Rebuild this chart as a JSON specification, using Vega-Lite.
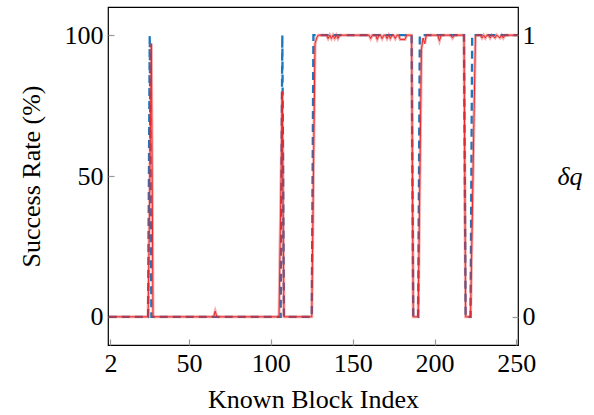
{
  "$schema": "https://vega.github.io/schema/vega-lite/v6.json",
  "width": 410,
  "height": 338,
  "autosize": {"type": "none"},
  "padding": {"left": 108, "top": 7, "right": 76, "bottom": 70},
  "background": "white",
  "config": {
    "font": "Liberation Serif",
    "view": {"stroke": "black", "strokeWidth": 1.2},
    "axis": {
      "grid": false,
      "domain": false,
      "labelFont": "Liberation Serif",
      "titleFont": "Liberation Serif",
      "labelFontSize": 26,
      "titleFontSize": 26,
      "titleFontWeight": "normal",
      "labelColor": "black",
      "titleColor": "black",
      "tickColor": "#999999",
      "tickWidth": 1.2
    }
  },
  "data": {
    "values": [
      {"x": 1, "rate": 0, "delta": 0},
      {"x": 25, "rate": 0, "delta": 0},
      {"x": 26, "rate": 45, "delta": 1},
      {"x": 27, "rate": 97, "delta": 0},
      {"x": 28, "rate": 0, "delta": 0},
      {"x": 65, "rate": 0, "delta": 0},
      {"x": 66, "rate": 2, "delta": 0},
      {"x": 67, "rate": 0, "delta": 0},
      {"x": 105, "rate": 0, "delta": 0},
      {"x": 106, "rate": 40, "delta": 0},
      {"x": 107, "rate": 80, "delta": 1},
      {"x": 108, "rate": 0, "delta": 0},
      {"x": 125, "rate": 0, "delta": 0},
      {"x": 126, "rate": 50, "delta": 1},
      {"x": 127, "rate": 97, "delta": 1},
      {"x": 128, "rate": 99, "delta": 1},
      {"x": 129, "rate": 100, "delta": 1},
      {"x": 134, "rate": 100, "delta": 1},
      {"x": 135, "rate": 98.8, "delta": 1},
      {"x": 136, "rate": 100, "delta": 1},
      {"x": 137, "rate": 98.8, "delta": 1},
      {"x": 138, "rate": 100, "delta": 1},
      {"x": 139, "rate": 98.8, "delta": 1},
      {"x": 140, "rate": 100, "delta": 1},
      {"x": 141, "rate": 98.8, "delta": 1},
      {"x": 142, "rate": 100, "delta": 1},
      {"x": 160, "rate": 100, "delta": 1},
      {"x": 161, "rate": 98.8, "delta": 1},
      {"x": 162, "rate": 100, "delta": 1},
      {"x": 164, "rate": 100, "delta": 1},
      {"x": 165, "rate": 98.5, "delta": 1},
      {"x": 166, "rate": 100, "delta": 1},
      {"x": 167, "rate": 100, "delta": 1},
      {"x": 168, "rate": 98.8, "delta": 1},
      {"x": 169, "rate": 100, "delta": 1},
      {"x": 170, "rate": 100, "delta": 1},
      {"x": 171, "rate": 98.8, "delta": 1},
      {"x": 172, "rate": 100, "delta": 1},
      {"x": 173, "rate": 98.8, "delta": 1},
      {"x": 174, "rate": 100, "delta": 1},
      {"x": 175, "rate": 100, "delta": 1},
      {"x": 176, "rate": 98.8, "delta": 1},
      {"x": 177, "rate": 100, "delta": 1},
      {"x": 178, "rate": 100, "delta": 1},
      {"x": 179, "rate": 98.5, "delta": 1},
      {"x": 182, "rate": 98.5, "delta": 1},
      {"x": 183, "rate": 100, "delta": 1},
      {"x": 186, "rate": 100, "delta": 1},
      {"x": 187, "rate": 0, "delta": 0},
      {"x": 190, "rate": 0, "delta": 0},
      {"x": 191, "rate": 47, "delta": 1},
      {"x": 192, "rate": 95, "delta": 1},
      {"x": 193, "rate": 99, "delta": 1},
      {"x": 194, "rate": 97, "delta": 1},
      {"x": 195, "rate": 100, "delta": 1},
      {"x": 202, "rate": 100, "delta": 1},
      {"x": 203, "rate": 98, "delta": 1},
      {"x": 204, "rate": 100, "delta": 1},
      {"x": 210, "rate": 100, "delta": 1},
      {"x": 211, "rate": 99, "delta": 1},
      {"x": 212, "rate": 100, "delta": 1},
      {"x": 218, "rate": 100, "delta": 1},
      {"x": 219, "rate": 0, "delta": 0},
      {"x": 222, "rate": 0, "delta": 0},
      {"x": 223, "rate": 33, "delta": 1},
      {"x": 224, "rate": 67, "delta": 1},
      {"x": 225, "rate": 99.5, "delta": 1},
      {"x": 226, "rate": 100, "delta": 1},
      {"x": 228, "rate": 100, "delta": 1},
      {"x": 229, "rate": 99, "delta": 1},
      {"x": 230, "rate": 100, "delta": 1},
      {"x": 231, "rate": 99, "delta": 1},
      {"x": 232, "rate": 100, "delta": 1},
      {"x": 233, "rate": 100, "delta": 1},
      {"x": 234, "rate": 99, "delta": 1},
      {"x": 235, "rate": 100, "delta": 1},
      {"x": 237, "rate": 99, "delta": 1},
      {"x": 238, "rate": 100, "delta": 1},
      {"x": 240, "rate": 99, "delta": 1},
      {"x": 241, "rate": 100, "delta": 1},
      {"x": 242, "rate": 99, "delta": 1},
      {"x": 243, "rate": 100, "delta": 1},
      {"x": 251, "rate": 100, "delta": 1}
    ]
  },
  "encoding": {
    "x": {
      "field": "x",
      "type": "quantitative",
      "scale": {"domain": [0.5, 251], "nice": false, "zero": false},
      "axis": {
        "values": [2, 50, 100, 150, 200, 250],
        "title": "Known Block Index",
        "tickSize": -6,
        "labelPadding": 11,
        "titlePadding": 10
      }
    }
  },
  "layer": [
    {
      "mark": {"type": "line", "color": "#1b78be", "strokeWidth": 2.3, "strokeDash": [8, 5], "clip": true},
      "encoding": {
        "y": {
          "field": "delta",
          "type": "quantitative",
          "scale": {"domain": [-0.1, 1.1], "nice": false, "zero": false},
          "axis": {
            "orient": "right",
            "values": [0, 1],
            "format": "d",
            "title": "δq",
            "titleFontStyle": "italic",
            "titleAngle": 0,
            "titleBaseline": "middle",
            "titleAlign": "left",
            "titlePadding": 22,
            "tickSize": -6,
            "labelPadding": 10
          }
        }
      }
    },
    {
      "mark": {"type": "line", "color": "#e8282a", "strokeWidth": 3, "opacity": 0.38, "clip": true},
      "encoding": {
        "y": {
          "field": "rate",
          "type": "quantitative",
          "scale": {"domain": [-10, 110], "nice": false, "zero": false},
          "axis": {
            "orient": "left",
            "values": [0, 50, 100],
            "title": "Success Rate (%)",
            "tickSize": -6,
            "labelPadding": 11,
            "titlePadding": 20
          }
        }
      }
    },
    {
      "mark": {"type": "line", "color": "#e8282a", "strokeWidth": 1, "clip": true},
      "encoding": {
        "y": {
          "field": "rate",
          "type": "quantitative",
          "scale": {"domain": [-10, 110], "nice": false, "zero": false},
          "axis": null
        }
      }
    }
  ],
  "resolve": {"scale": {"y": "independent"}}
}
